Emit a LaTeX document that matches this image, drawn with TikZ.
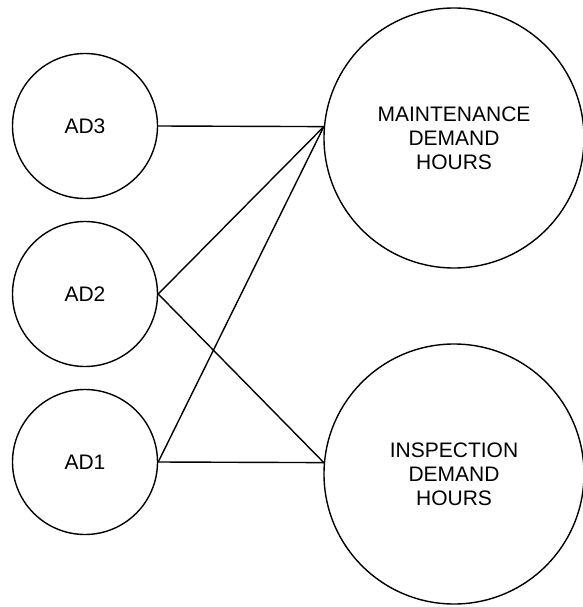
\documentclass[tikz,border=0pt]{standalone}
\usepackage{fontspec}
\setmainfont{Liberation Sans}

\def\petit{145pt}
\def\grand{260pt}

\begin{document}
\begin{tikzpicture}[x=1pt,y=-1pt]
\tikzstyle{noeud}=[draw,circle,line width=1.4pt,fill=white,inner sep=0pt,minimum size=\petit,font=\fontsize{21}{24}\selectfont]
\tikzstyle{demande}=[noeud,minimum size=\grand,align=center]
\tikzstyle{arc}=[-,line width=1.4pt]

\useasboundingbox (0,0) rectangle (582,607);

\node[noeud] (ad3) at (85,126) {AD3};
\node[noeud] (ad2) at (85,294) {AD2};
\node[noeud] (ad1) at (85,462) {AD1};
\node[demande] (maint) at (454,138) {MAINTENANCE\\DEMAND\\HOURS};
\node[demande] (insp) at (454,474) {INSPECTION\\DEMAND\\HOURS};

\draw[arc] (ad3.east)--(maint.175) ;
\draw[arc] (ad2.east)--(maint.175) ;
\draw[arc] (ad1.east)--(maint.175) ;
\draw[arc] (ad2.east)--(insp.175) ;
\draw[arc] (ad1.east)--(insp.175) ;

\end{tikzpicture}
\end{document}
